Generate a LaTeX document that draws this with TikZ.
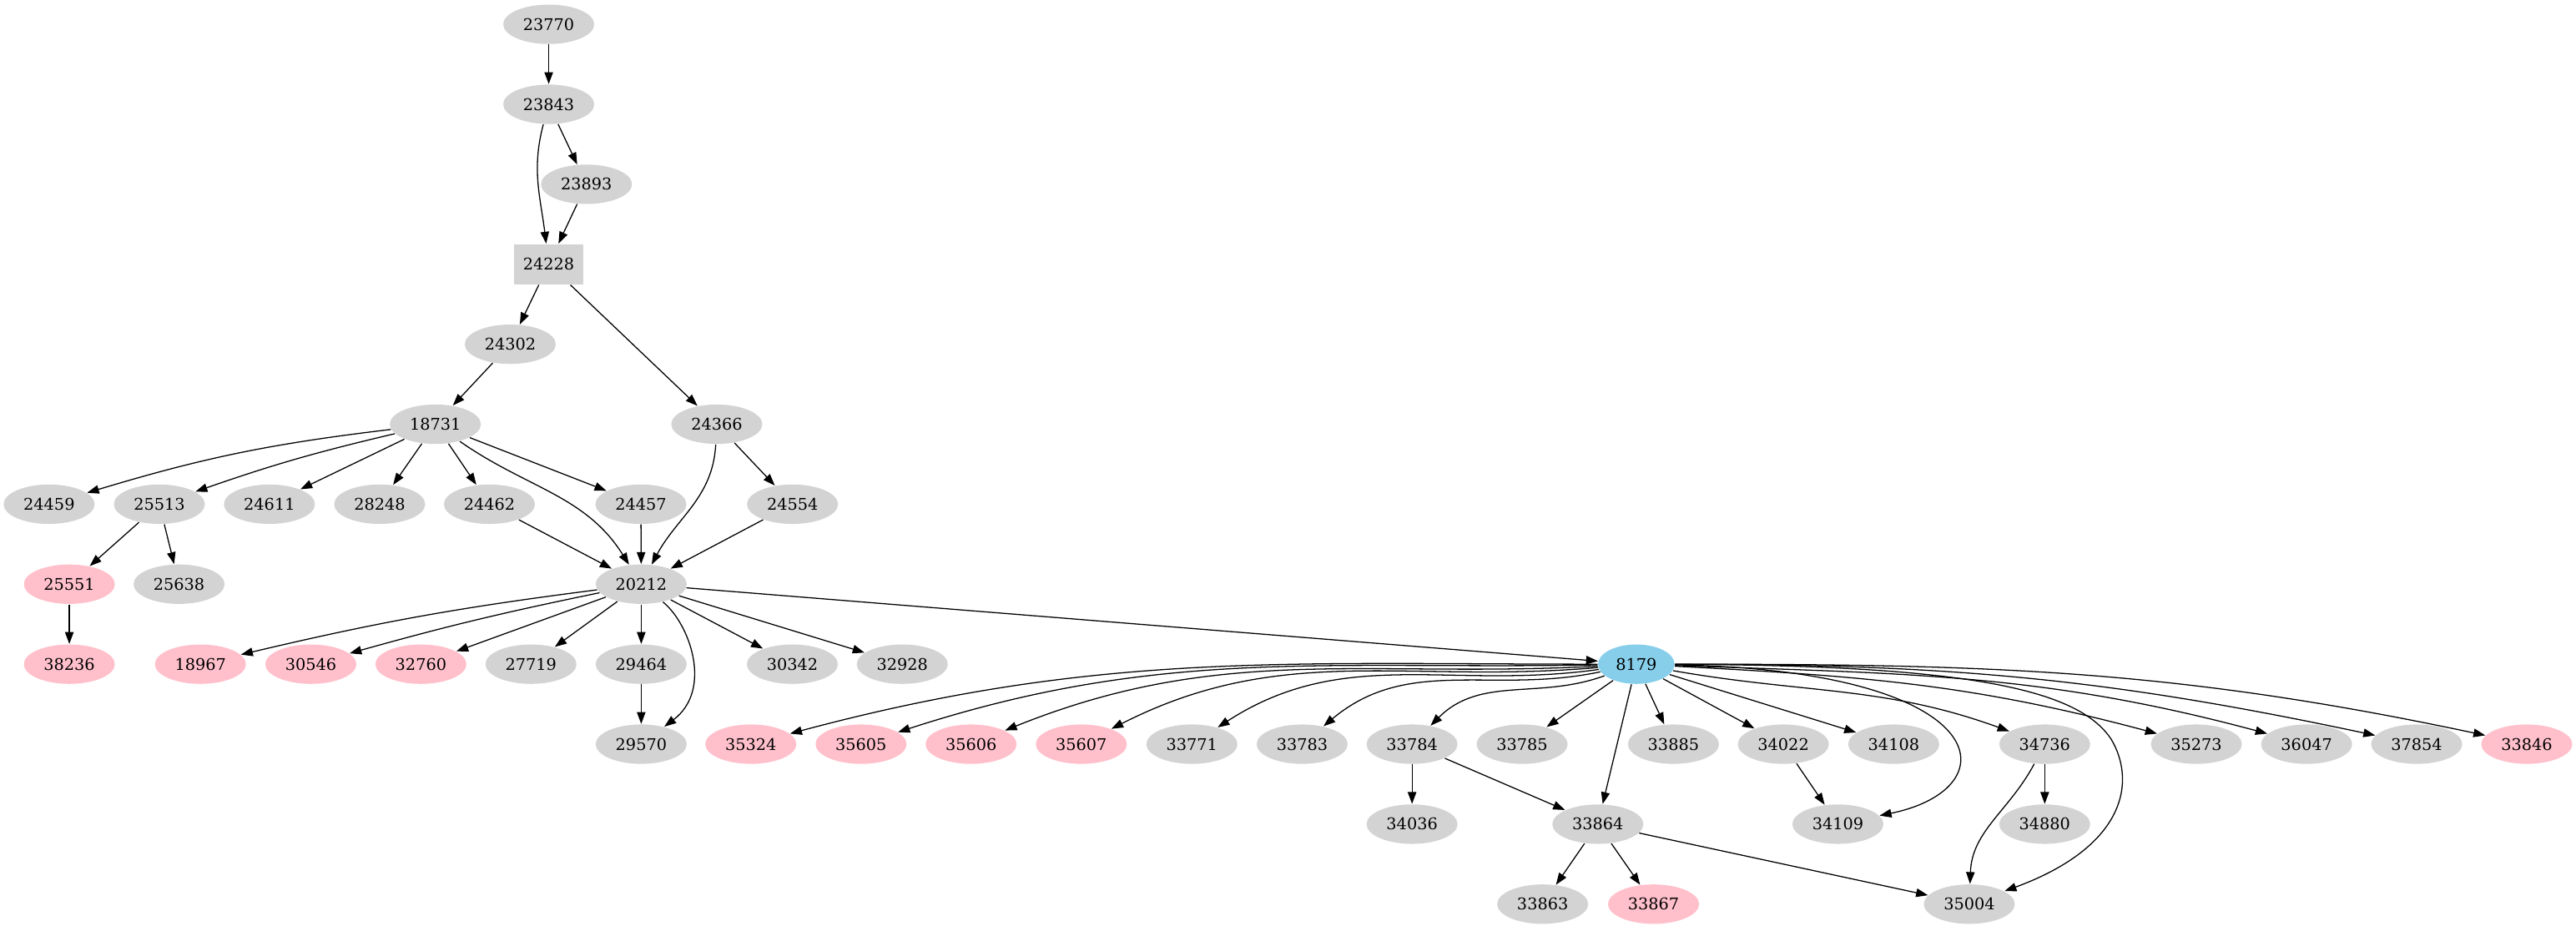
\documentclass[tikz,border=0pt]{standalone}
\usepackage{fontspec}
\setmainfont{DejaVu Serif}
\usetikzlibrary{arrows.meta,shapes.geometric}

\definecolor{nodegray}{HTML}{D3D3D3}
\definecolor{nodepink}{HTML}{FFC0CB}
\definecolor{nodeblue}{HTML}{87CEEB}

\tikzset{
  gnode/.style={ellipse, fill=nodegray, inner xsep=4pt, inner ysep=2pt, minimum height=24pt, font=\fontsize{9.8pt}{11pt}\selectfont},
  pnode/.style={gnode, fill=nodepink},
  bnode/.style={gnode, fill=nodeblue},
  boxnode/.style={rectangle, fill=nodegray, inner xsep=5.6pt, inner ysep=2pt, minimum height=24.5pt, font=\fontsize{9.8pt}{11pt}\selectfont}
}

\begin{document}
\begin{tikzpicture}[x=1pt, y=1pt, >={Triangle[length=7.2pt,width=5.2pt]}, line width=0.65pt]
		\useasboundingbox (0,0) rectangle (1568,-566.4);

		\node[gnode] (n23770) at (334, -14.8) {23770};
		\node[gnode] (n23843) at (334, -63.5) {23843};
		\node[gnode] (n23893) at (357, -112.2) {23893};
		\node[boxnode] (n24228) at (334, -160.9) {24228};
		\node[gnode] (n24302) at (310.6, -209.6) {24302};
		\node[gnode] (n18731) at (265, -258.3) {18731};
		\node[gnode] (n24366) at (436.3, -258.3) {24366};

		\node[gnode] (n24459) at (29.9, -307) {24459};
		\node[gnode] (n25513) at (97, -307) {25513};
		\node[gnode] (n24611) at (164, -307) {24611};
		\node[gnode] (n28248) at (231.1, -307) {28248};
		\node[gnode] (n24462) at (297.9, -307) {24462};
		\node[gnode] (n24457) at (390.1, -307) {24457};
		\node[gnode] (n24554) at (482.4, -307) {24554};

		\node[pnode] (n25551) at (42.2, -355.7) {25551};
		\node[gnode] (n25638) at (109, -355.7) {25638};
		\node[gnode] (n20212) at (390.3, -355.7) {20212};

		\node[pnode] (n38236) at (42.2, -404.4) {38236};
		\node[pnode] (n18967) at (122, -404.4) {18967};
		\node[pnode] (n30546) at (189.2, -404.4) {30546};
		\node[pnode] (n32760) at (256.2, -404.4) {32760};
		\node[gnode] (n27719) at (323.2, -404.4) {27719};
		\node[gnode] (n29464) at (390.3, -404.4) {29464};
		\node[gnode] (n30342) at (482.3, -404.4) {30342};
		\node[gnode] (n32928) at (549.2, -404.4) {32928};
		\node[bnode] (n8179) at (996, -404.4) {8179};

		\node[gnode] (n29570) at (390.3, -453.1) {29570};
		\node[pnode] (n35324) at (457, -453.1) {35324};
		\node[pnode] (n35605) at (524.1, -453.1) {35605};
		\node[pnode] (n35606) at (591.1, -453.1) {35606};
		\node[pnode] (n35607) at (658.2, -453.1) {35607};
		\node[gnode] (n33771) at (725.5, -453.1) {33771};
		\node[gnode] (n33783) at (792.6, -453.1) {33783};
		\node[gnode] (n33784) at (859.5, -453.1) {33784};
		\node[gnode] (n33785) at (926.5, -453.1) {33785};
		\node[gnode] (n33885) at (1018.6, -453.1) {33885};
		\node[gnode] (n34022) at (1085.5, -453.1) {34022};
		\node[gnode] (n34108) at (1152.7, -453.1) {34108};
		\node[gnode] (n34736) at (1244.6, -453.1) {34736};
		\node[gnode] (n35273) at (1336.9, -453.1) {35273};
		\node[gnode] (n36047) at (1404, -453.1) {36047};
		\node[gnode] (n37854) at (1471, -453.1) {37854};
		\node[pnode] (n33846) at (1538, -453.1) {33846};

		\node[gnode] (n34036) at (859.5, -501.8) {34036};
		\node[gnode] (n33864) at (972.6, -501.8) {33864};
		\node[gnode] (n34109) at (1118.7, -501.8) {34109};
		\node[gnode] (n34880) at (1244.6, -501.8) {34880};

		\node[gnode] (n33863) at (939, -550.5) {33863};
		\node[pnode] (n33867) at (1006.5, -550.5) {33867};
		\node[gnode] (n35004) at (1198.7, -550.5) {35004};

		% top chain
		\draw [->] (n23770) to (n23843);
		\draw [->] (n23843) to[out=-105, in=97] (n24228);
		\draw [->] (n23843) to (n23893);
		\draw [->] (n23893) to (n24228);
		\draw [->] (n24228) to (n24302);
		\draw [->] (n24228) to (n24366);
		\draw [->] (n24302) to (n18731);

		\draw [->] (n18731) to[bend right=5] (n24459);
		\draw [->] (n18731) to[bend right=3] (n25513);
		\draw [->] (n18731) to (n24611);
		\draw [->] (n18731) to (n28248);
		\draw [->] (n18731) to (n24462);
		\draw [->] (n18731) to (n24457);
		\draw [->] (n18731) to[out=-35, in=122] (n20212);
		\draw [->] (n25513) to (n25551);
		\draw [->] (n25513) to (n25638);
		\draw [->] (n25551) to (n38236);
		\draw [->] (n24366) to (n24554);
		\draw [->] (n24366) to[out=-93, in=62] (n20212);
		\draw [->] (n24554) to (n20212);
		\draw [->] (n24462) to (n20212);
		\draw [->] (n24457) to (n20212);

		\draw [->] (n20212) to[bend right=3] (n18967);
		\draw [->] (n20212) to[bend right=2] (n30546);
		\draw [->] (n20212) to (n32760);
		\draw [->] (n20212) to (n27719);
		\draw [->] (n20212) to (n29464);
		\draw [->] (n20212) to (n30342);
		\draw [->] (n20212) to (n32928);
		\draw [->] (n20212) to (n8179);
		\draw [->] (n20212) .. controls (420,-380) and (434,-420) .. (n29570);
		\draw [->] (n29464) to (n29570);

		% fan of 8179
		\draw [->] (n8179) to[out=180, in=15] (n35324);
		\draw [->] (n8179) to[out=181, in=18] (n35605);
		\draw [->] (n8179) to[out=183, in=22] (n35606);
		\draw [->] (n8179) to[out=185, in=27] (n35607);
		\draw [->] (n8179) to[out=188, in=33] (n33771);
		\draw [->] (n8179) to[out=192, in=40] (n33783);
		\draw [->] (n8179) to[out=200, in=45] (n33784);
		\draw [->] (n8179) to (n33785);
		\draw [->] (n8179) to (n33864);
		\draw [->] (n8179) to (n33885);
		\draw [->] (n8179) to (n34022);
		\draw [->] (n8179) to (n34108);
		\draw [->] (n8179) .. controls (1215,-408) and (1225,-480) .. (n34109);
		\draw [->] (n8179) to[out=-10, in=160] (n34736);
		\draw [->] (n8179) .. controls (1200,-405) and (1265,-420) .. (1285,-450)
			.. controls (1300,-475) and (1295,-515) .. (n35004);
		\draw [->] (n8179) to[out=-3, in=165] (n35273);
		\draw [->] (n8179) to[out=-2, in=165] (n36047);
		\draw [->] (n8179) to[out=0, in=168] (n37854);
		\draw [->] (n8179) to[out=0, in=168] (n33846);

		\draw [->] (n33784) to (n34036);
		\draw [->] (n33784) to (n33864);
		\draw [->] (n34022) to (n34109);
		\draw [->] (n34736) to (n34880);
		\draw [->] (n34736) to[out=-118, in=88] (n35004);
		\draw [->] (n33864) to (n33863);
		\draw [->] (n33864) to (n33867);
		\draw [->] (n33864) to (n35004);
\end{tikzpicture}
\end{document}
